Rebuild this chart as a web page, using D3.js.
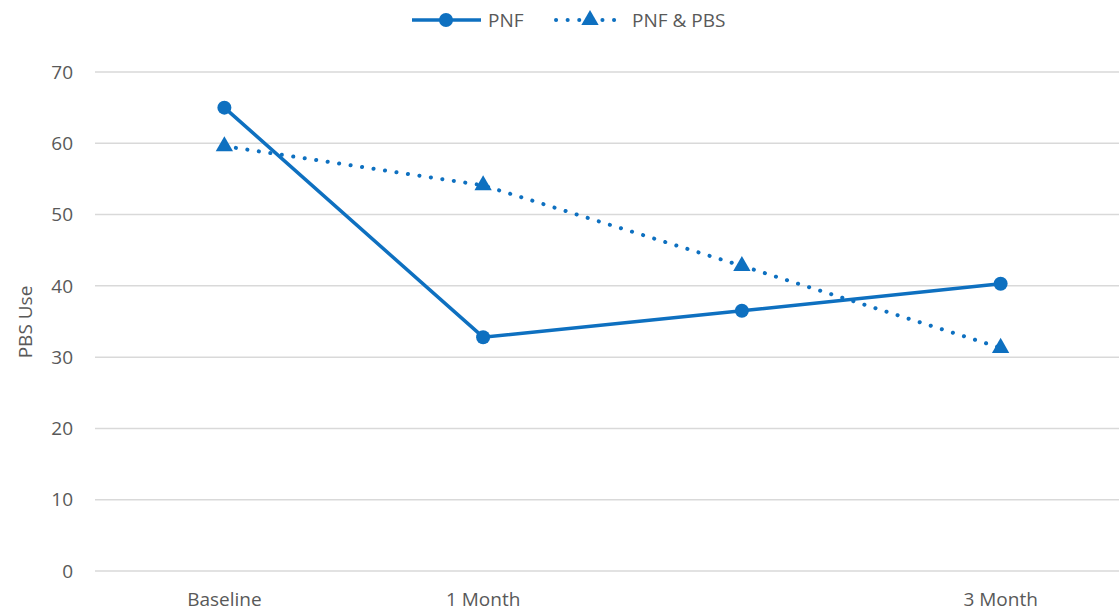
<!DOCTYPE html>
<html>
<head>
<meta charset="utf-8">
<script src="https://cdn.jsdelivr.net/npm/d3@7"></script>
<style>
  body { margin: 0; background: #fff; }
  text { font-family: "Open Sans", "Liberation Sans", sans-serif; fill: #595959; }
</style>
</head>
<body>
<div id="chart"></div>
<script>
// data
const categories = ["Baseline", "1 Month", "", "3 Month"];
const pnf = [65, 32.8, 36.5, 40.3];
const pnfPbs = [59.6, 54.1, 42.8, 31.3];
const yTicks = [0, 10, 20, 30, 40, 50, 60, 70];

const width = 1119, height = 611;
const color = "#0E70C0";
const fontSize = "19px";

const svg = d3.select("#chart").append("svg")
    .attr("width", width)
    .attr("height", height);

const x = d3.scaleBand()
    .domain(categories.map((d, i) => i))
    .range([95, 1130]);

const y = d3.scaleLinear()
    .domain([0, 70])
    .range([571, 72]);

// gridlines
svg.append("g")
    .selectAll("line")
    .data(yTicks)
    .enter()
    .append("line")
    .attr("x1", 95)
    .attr("x2", width)
    .attr("y1", d => y(d))
    .attr("y2", d => y(d))
    .attr("stroke", "#d9d9d9")
    .attr("stroke-width", 1.5);

// y tick labels
svg.append("g")
    .selectAll("text")
    .data(yTicks)
    .enter()
    .append("text")
    .attr("x", 73)
    .attr("y", d => y(d))
    .attr("dy", "0.35em")
    .attr("text-anchor", "end")
    .style("font-size", fontSize)
    .text(d => d);

// x labels
svg.append("g")
    .selectAll("text")
    .data(categories)
    .enter()
    .append("text")
    .attr("x", (d, i) => x(i) + x.bandwidth() / 2)
    .attr("y", 606)
    .attr("text-anchor", "middle")
    .style("font-size", fontSize)
    .text(d => d);

// y axis title
svg.append("text")
    .attr("transform", "translate(32,322) rotate(-90)")
    .attr("text-anchor", "middle")
    .style("font-size", fontSize)
    .text("PBS Use");

const cx = i => x(i) + x.bandwidth() / 2;
const line = d3.line()
    .x((d, i) => cx(i))
    .y(d => y(d));

const triangle = d3.symbol().type(d3.symbolTriangle).size(130);

// PNF & PBS dotted
svg.append("path")
    .datum(pnfPbs)
    .attr("d", line)
    .attr("fill", "none")
    .attr("stroke", color)
    .attr("stroke-width", 4)
    .attr("stroke-linecap", "round")
    .attr("stroke-dasharray", "0.1 11.5");

svg.append("g")
    .selectAll("path")
    .data(pnfPbs)
    .enter()
    .append("path")
    .attr("d", triangle)
    .attr("transform", (d, i) => `translate(${cx(i)},${y(d)})`)
    .attr("fill", color);

// PNF solid
svg.append("path")
    .datum(pnf)
    .attr("d", line)
    .attr("fill", "none")
    .attr("stroke", color)
    .attr("stroke-width", 3.5);

svg.append("g")
    .selectAll("circle")
    .data(pnf)
    .enter()
    .append("circle")
    .attr("cx", (d, i) => cx(i))
    .attr("cy", d => y(d))
    .attr("r", 7)
    .attr("fill", color);

// legend
const legend = svg.append("g");
legend.append("line")
    .attr("x1", 412).attr("x2", 481)
    .attr("y1", 20).attr("y2", 20)
    .attr("stroke", color)
    .attr("stroke-width", 3.5);
legend.append("circle")
    .attr("cx", 446).attr("cy", 20).attr("r", 7)
    .attr("fill", color);
legend.append("text")
    .attr("x", 488).attr("y", 20).attr("dy", "0.35em")
    .style("font-size", fontSize)
    .text("PNF");

legend.append("line")
    .attr("x1", 556).attr("x2", 620)
    .attr("y1", 20).attr("y2", 20)
    .attr("stroke", color)
    .attr("stroke-width", 4)
    .attr("stroke-linecap", "round")
    .attr("stroke-dasharray", "0.1 11.5");
legend.append("path")
    .attr("d", triangle)
    .attr("transform", "translate(590,20)")
    .attr("fill", color);
legend.append("text")
    .attr("x", 632).attr("y", 20).attr("dy", "0.35em")
    .style("font-size", fontSize)
    .text("PNF & PBS");
</script>
</body>
</html>
